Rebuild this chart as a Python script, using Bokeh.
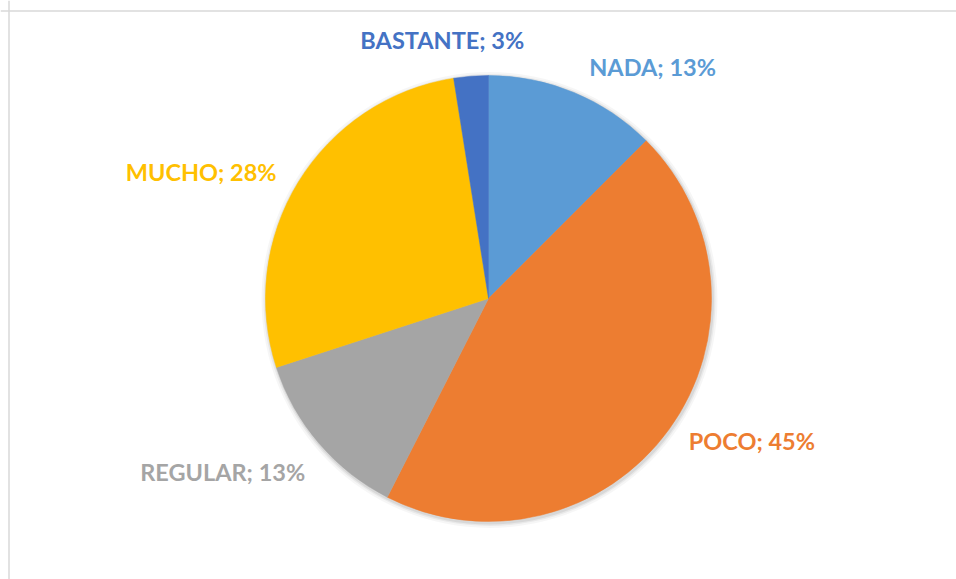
import numpy as np
from bokeh.plotting import figure
from bokeh.models import Range1d, Span, ColumnDataSource
from bokeh.core.properties import value
from bokeh.embed import file_html
from bokeh.resources import INLINE

# ---- data ----
categories = ["NADA", "POCO", "REGULAR", "MUCHO", "BASTANTE"]
counts = [5, 18, 5, 11, 1]
pct_labels = ["13%", "45%", "13%", "28%", "3%"]
colors = ["#5B9BD5", "#ED7D31", "#A5A5A5", "#FFC000", "#4472C4"]

# ---- layout (pixel space: x = px from left, y = 579 - px from top) ----
W, H = 956, 579
p = figure(width=W, height=H, output_backend="svg", toolbar_location=None,
           x_range=Range1d(0, W), y_range=Range1d(0, H),
           min_border=0)
p.axis.visible = False
p.grid.visible = False
p.outline_line_color = None
p.background_fill_color = "white"
p.border_fill_color = "white"

# chart area border (left and top visible)
p.add_layout(Span(location=8.5, dimension="height", line_color="#d9d9d9", line_width=1.5))
p.add_layout(Span(location=H - 10.5, dimension="width", line_color="#d9d9d9", line_width=1.5))

cx, cy, R = 488, H - 298, 223

# soft shadow
for dr, a in [(5, 0.035), (3, 0.05), (1.5, 0.07)]:
    p.circle(x=[cx + 1], y=[cy - 1.5], radius=R + dr, fill_color="black", fill_alpha=a,
             line_color=None)

vals = np.array(counts, dtype=float)
cum = np.cumsum(vals) / vals.sum()
prev = np.concatenate([[0.0], cum[:-1]])
start = np.pi / 2 - 2 * np.pi * prev
end = np.pi / 2 - 2 * np.pi * cum

src = ColumnDataSource(dict(start=start, end=end, color=colors))
p.wedge(x=cx, y=cy, radius=R, start_angle="start", end_angle="end", direction="clock",
        fill_color="color", line_color="color", line_width=0.5, source=src)

# labels placed outside the slice ends (small layout nudges to avoid overlap)
mid = (prev + cum) / 2 * 2 * np.pi  # clockwise from top
off = 22
nudges = [(7, -9), (2, 2), (3, 0), (-3, -2), (-27, 0)]
for cat, pl, col, th, (nx, ny) in zip(categories, pct_labels, colors, mid, nudges):
    s, c = np.sin(th), np.cos(th)
    lx = cx + (R + off) * s + nx
    ly = cy + (R + off) * c + ny
    if abs(s) < 0.3:
        align = "center"
    else:
        align = "left" if s > 0 else "right"
    if abs(c) < 0.6:
        base = "middle"
    else:
        base = "bottom" if c > 0 else "top"
    p.text(x=[lx], y=[ly], text=[f"{cat}; {pl}"], text_color=col,
           text_font=value("Lato"), text_font_style="bold", text_font_size="23.5px",
           text_align=align, text_baseline=base)

open("out.html", "w").write(file_html(p, INLINE))
